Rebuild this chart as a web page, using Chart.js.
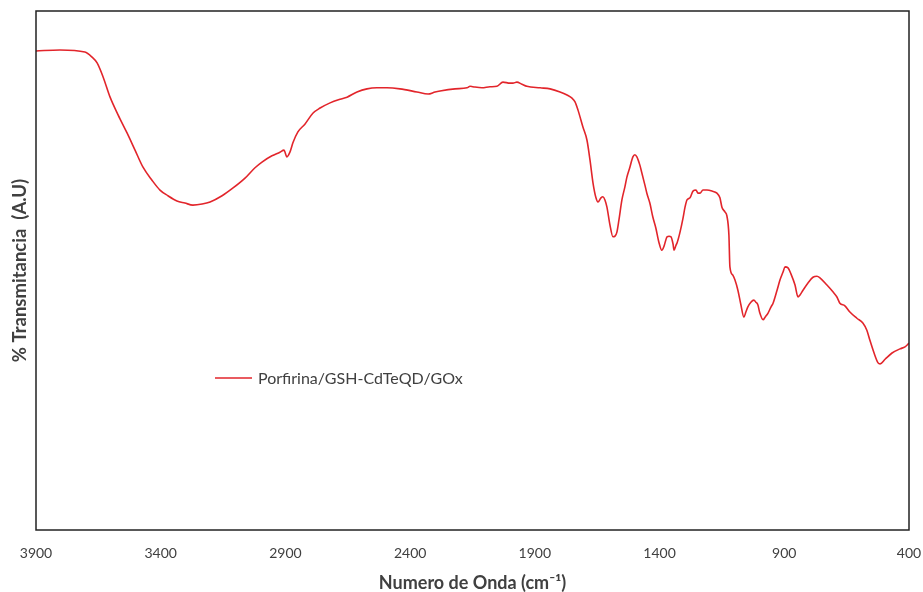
<!DOCTYPE html>
<html>
<head>
<meta charset="utf-8">
<script src="https://cdn.jsdelivr.net/npm/chart.js@4/dist/chart.umd.min.js"></script>
<style>
html,body{margin:0;padding:0;background:#fff;}
#wrap{width:923px;height:592px;position:relative;}
</style>
</head>
<body>
<div id="wrap"><canvas id="c" width="923" height="592"></canvas></div>
<script>
const seriesLabel = "Porfirina/GSH-CdTeQD/GOx";
const xTitle = "Numero de Onda (cm\u207B\u00B9)";
const yTitle = "% Transmitancia  (A.U)";
const xTicks = [3900, 3400, 2900, 2400, 1900, 1400, 900, 400];

const wavenumber = [3900,3804,3704,3675,3655,3631,3603,3571,3535,3503,3471,3435,3403,3371,3335,3303,3271,3234,3202,3154,3110,3062,3022,2994,2954,2922,2906,2894,2882,2870,2850,2822,2790,2761,2721,2681,2653,2613,2573,2533,2493,2441,2373,2328,2300,2280,2220,2172,2160,2148,2112,2080,2052,2028,2000,1988,1972,1952,1932,1879,1839,1799,1771,1751,1739,1727,1707,1691,1679,1667,1655,1647,1635,1627,1619,1611,1599,1587,1579,1571,1563,1551,1539,1531,1519,1507,1499,1491,1479,1471,1459,1451,1439,1427,1415,1403,1391,1382,1370,1362,1354,1346,1342,1334,1330,1318,1306,1298,1290,1278,1266,1254,1246,1238,1226,1210,1190,1170,1158,1150,1138,1130,1122,1118,1106,1098,1086,1074,1062,1054,1046,1034,1022,1014,1006,998,985,977,965,953,945,929,917,905,897,885,873,857,845,837,825,805,785,769,757,729,705,689,677,657,637,609,585,569,557,540,524,516,496,468,436,416,400];
const transmittance = [92.3,92.5,92.1,91.1,90.0,87.3,83.4,80.0,76.5,73.2,69.9,67.4,65.5,64.4,63.4,63.0,62.6,62.8,63.2,64.4,65.9,67.8,69.8,70.9,72.1,72.8,73.2,71.9,72.8,74.6,76.7,78.2,80.3,81.3,82.3,83.0,83.4,84.4,85.0,85.2,85.2,85.0,84.4,84.0,84.4,84.6,85.0,85.2,85.5,85.4,85.2,85.4,85.5,86.3,86.1,86.1,86.3,85.9,85.5,85.2,85.0,84.4,83.8,83.2,82.5,80.9,77.6,75.1,71.3,66.9,64.0,63.2,64.0,64.2,63.6,62.2,58.8,56.5,56.6,57.4,59.7,63.6,66.1,68.0,69.9,71.9,72.3,71.9,70.3,68.8,66.5,64.9,63.0,60.3,58.2,55.5,53.9,54.7,56.5,56.6,56.5,55.1,53.9,54.9,55.3,57.4,60.1,62.2,63.6,64.0,65.3,65.5,64.9,64.9,65.5,65.5,65.3,64.9,64.0,62.2,61.3,60.5,56.8,50.7,49.1,48.2,46.2,43.4,41.0,42.0,43.0,43.9,44.3,43.9,43.4,41.8,40.5,41.0,41.8,43.0,43.7,46.2,48.2,49.7,50.7,50.5,49.3,47.2,44.9,45.3,46.2,47.6,48.7,48.9,48.6,47.2,45.9,44.9,43.7,43.2,42.0,40.8,39.9,38.5,36.6,34.1,32.2,32.0,32.9,34.1,34.9,35.3,36.0];

const FONT = "Lato, 'Open Sans', sans-serif";
const lineColor = '#E2252B';
const textColor = '#404040';

const points = wavenumber.map((w, i) => ({x: w, y: transmittance[i]}));

const frame = {
  id: 'frame',
  afterDraw(chart) {
    const {ctx, chartArea: a} = chart;
    ctx.save();
    ctx.strokeStyle = '#222';
    ctx.lineWidth = 1.5;
    ctx.strokeRect(a.left, a.top, a.right - a.left, a.bottom - a.top);
    ctx.restore();
  }
};

const insideLegend = {
  id: 'insideLegend',
  afterDraw(chart) {
    const {ctx} = chart;
    const ds = chart.data.datasets[0];
    const lx = 215, ly = 378;
    ctx.save();
    ctx.strokeStyle = ds.borderColor;
    ctx.lineWidth = 1.5;
    ctx.beginPath();
    ctx.moveTo(lx, ly);
    ctx.lineTo(lx + 37, ly);
    ctx.stroke();
    ctx.fillStyle = textColor;
    ctx.font = "16px " + FONT;
    ctx.textBaseline = 'middle';
    ctx.fillText(ds.label, lx + 43, ly + 1);
    ctx.restore();
  }
};

new Chart(document.getElementById('c'), {
  type: 'line',
  data: {
    datasets: [{
      label: seriesLabel,
      data: points,
      borderColor: lineColor,
      borderWidth: 1.6,
      pointRadius: 0,
      fill: false,
      tension: 0.3,
      cubicInterpolationMode: 'monotone'
    }]
  },
  options: {
    responsive: false,
    animation: false,
    layout: {padding: {left: 0, right: 14, top: 11, bottom: 0}},
    plugins: {legend: {display: false}, tooltip: {enabled: false}},
    scales: {
      x: {
        type: 'linear',
        reverse: true,
        min: 400,
        max: 3900,
        afterBuildTicks: (s) => { s.ticks = xTicks.map(v => ({value: v})); },
        afterFit: (s) => { s.height = 62; s.paddingLeft = 0; s.paddingRight = 0; },
        ticks: {color: textColor, font: {family: FONT, size: 14}, padding: 14.6, maxRotation: 0, autoSkip: false,
                callback: (v) => String(v)},
        grid: {display: false, drawTicks: false},
        border: {display: false},
        title: {display: true, text: xTitle, color: textColor, font: {family: FONT, size: 18, weight: 'bold', lineHeight: 1.0}, padding: {top: 12.6, bottom: 0}}
      },
      y: {
        min: 0,
        max: 100,
        afterFit: (s) => { s.width = 36; s.paddingTop = 0; s.paddingBottom = 0; },
        ticks: {display: false},
        grid: {display: false, drawTicks: false},
        border: {display: false},
        title: {display: true, text: yTitle, color: textColor, font: {family: FONT, size: 18.5, weight: 'bold'}, padding: {top: 9, bottom: 5}}
      }
    }
  },
  plugins: [frame, insideLegend]
});
</script>
</body>
</html>
